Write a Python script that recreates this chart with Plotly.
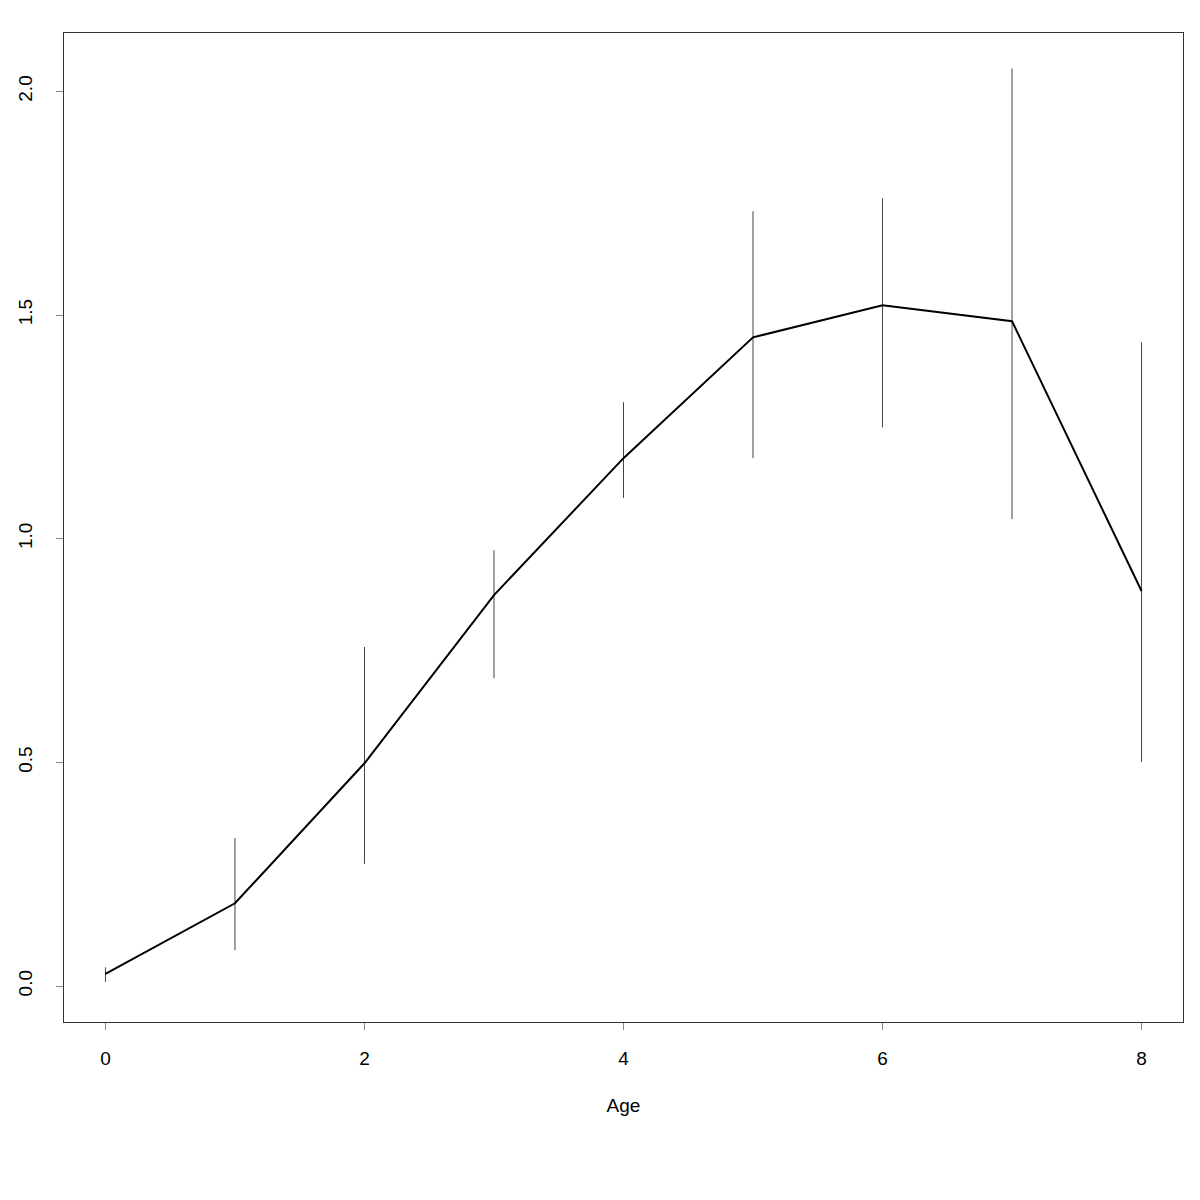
import plotly.graph_objects as go

age = [0, 1, 2, 3, 4, 5, 6, 7, 8]
mean_vals = [0.027, 0.185, 0.498, 0.874, 1.180, 1.450, 1.522, 1.486, 0.883]
upper_vals = [0.042, 0.331, 0.758, 0.974, 1.305, 1.732, 1.761, 2.051, 1.439]
lower_vals = [0.009, 0.080, 0.273, 0.688, 1.091, 1.180, 1.249, 1.044, 0.501]

x_ticks = [0, 2, 4, 6, 8]
y_ticks = [0.0, 0.5, 1.0, 1.5, 2.0]
y_tick_labels = ["0.0", "0.5", "1.0", "1.5", "2.0"]

err_plus = [u - m for u, m in zip(upper_vals, mean_vals)]
err_minus = [m - l for m, l in zip(mean_vals, lower_vals)]

fig = go.Figure()
fig.add_trace(go.Scatter(
    x=age, y=mean_vals, mode="lines",
    line=dict(color="black", width=2),
    error_y=dict(type="data", symmetric=False, array=err_plus, arrayminus=err_minus,
                 width=0, thickness=1, color="#444444"),
    showlegend=False,
))

fig.update_layout(
    width=1200, height=1200,
    margin=dict(l=56, r=25, t=25, b=186),
    paper_bgcolor="white", plot_bgcolor="white",
    font=dict(family="Liberation Sans, Arial, sans-serif", size=19, color="black"),
)
fig.update_xaxes(
    range=[-0.32, 8.32], tickvals=x_ticks, ticktext=[str(v) for v in x_ticks],
    ticks="outside", ticklen=7, tickcolor="#888888", tickwidth=1,
    showline=True, linecolor="#333333", linewidth=1, mirror=True,
    showgrid=False, zeroline=False, automargin=False,
    tickfont=dict(size=19),
    title=dict(text="Age", standoff=30, font=dict(size=19)),
    ticklabelstandoff=12,
)
fig.update_yaxes(
    range=[-0.0804, 2.1304], tickvals=y_ticks, ticktext=y_tick_labels,
    ticks="outside", ticklen=7, tickcolor="#888888", tickwidth=1,
    showline=True, linecolor="#333333", linewidth=1, mirror=True,
    showgrid=False, zeroline=False, tickangle=-90, automargin=False,
    tickfont=dict(size=19),
    ticklabelstandoff=16,
)

fig.write_html("out.html")
